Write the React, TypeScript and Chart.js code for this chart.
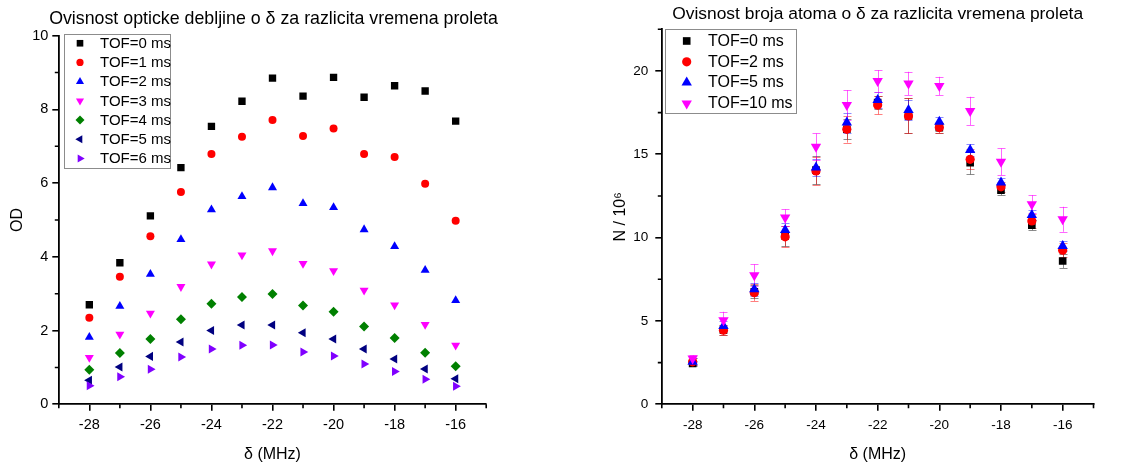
import React, { useEffect, useRef } from 'react';
import { Chart, registerables } from 'chart.js';

Chart.register(...registerables);

const FONT = "'Liberation Sans', Arial, Helvetica, sans-serif";

// ---------- shared axis ----------
const detuning = [-28, -27, -26, -25, -24, -23, -22, -21, -20, -19, -18, -17, -16];
const detuningMajorTicks = [-28, -26, -24, -22, -20, -18, -16];
const detuningMinorTicks = [-29, -27, -25, -23, -21, -19, -17, -15];
const xAxisTitle = 'δ (MHz)';

// ---------- left chart: optical density ----------
const odTitle = 'Ovisnost opticke debljine o δ za razlicita vremena proleta';
const odAxisTitle = 'OD';
const odSeriesNames = ['TOF=0 ms', 'TOF=1 ms', 'TOF=2 ms', 'TOF=3 ms', 'TOF=4 ms', 'TOF=5 ms', 'TOF=6 ms'];
const odTof0 = [2.70, 3.84, 5.11, 6.42, 7.54, 8.22, 8.85, 8.36, 8.87, 8.33, 8.64, 8.50, 7.68];
const odTof1 = [2.35, 3.46, 4.56, 5.76, 6.79, 7.26, 7.71, 7.28, 7.48, 6.79, 6.71, 5.98, 4.98];
const odTof2 = [1.82, 2.66, 3.53, 4.47, 5.28, 5.64, 5.88, 5.45, 5.34, 4.74, 4.28, 3.64, 2.82];
const odTof3 = [1.27, 1.90, 2.47, 3.19, 3.80, 4.05, 4.16, 3.82, 3.62, 3.09, 2.69, 2.16, 1.60];
const odTof4 = [0.94, 1.39, 1.77, 2.31, 2.73, 2.91, 2.99, 2.68, 2.51, 2.11, 1.80, 1.40, 1.03];
const odTof5 = [0.65, 1.01, 1.30, 1.69, 2.00, 2.15, 2.15, 1.94, 1.77, 1.50, 1.23, 0.96, 0.69];
const odTof6 = [0.50, 0.75, 0.95, 1.28, 1.50, 1.60, 1.61, 1.42, 1.31, 1.09, 0.89, 0.68, 0.49];
const odSeries = [odTof0, odTof1, odTof2, odTof3, odTof4, odTof5, odTof6];
const odYTicks = [0, 2, 4, 6, 8, 10];
const odYMinorTicks = [1, 3, 5, 7, 9];

// ---------- right chart: atom number ----------
const nTitle = 'Ovisnost broja atoma o δ za razlicita vremena proleta';
const nAxisTitle = 'N / 10⁶';
const nSeriesNames = ['TOF=0 ms', 'TOF=2 ms', 'TOF=5 ms', 'TOF=10 ms'];
const nTof0 = [2.45, 4.45, 6.75, 10.10, 14.05, 16.50, 18.10, 17.30, 16.60, 14.50, 12.85, 10.75, 8.60];
const nTof0Err = [0.15, 0.30, 0.40, 0.60, 0.85, 0.60, 0.40, 1.05, 0.30, 0.70, 0.30, 0.30, 0.42];
const nTof2 = [2.55, 4.45, 6.70, 10.05, 14.00, 16.50, 17.95, 17.30, 16.60, 14.70, 13.05, 11.00, 9.25];
const nTof2Err = [0.20, 0.30, 0.50, 0.62, 0.82, 0.80, 0.55, 1.05, 0.30, 0.60, 0.30, 0.40, 0.40];
const nTof5 = [2.55, 4.70, 6.90, 10.45, 14.20, 16.90, 18.25, 17.65, 16.95, 15.25, 13.30, 11.35, 9.50];
const nTof5Err = [0.20, 0.30, 0.40, 0.40, 0.50, 0.60, 0.50, 0.60, 0.30, 0.35, 0.30, 0.30, 0.30];
const nTof10 = [2.75, 5.05, 7.75, 11.20, 15.45, 17.95, 19.40, 19.25, 19.10, 17.60, 14.55, 12.00, 11.10];
const nTof10Err = [0.20, 0.50, 0.65, 0.50, 0.80, 0.90, 0.65, 0.70, 0.55, 0.85, 0.80, 0.55, 0.75];
const nSeries = [nTof0, nTof2, nTof5, nTof10];
const nSeriesErr = [nTof0Err, nTof2Err, nTof5Err, nTof10Err];
const nYTicks = [0, 5, 10, 15, 20];
const nYMinorTicks = [2.5, 7.5, 12.5, 17.5, 22.5];

// ---------- styles ----------
const odColors = ['#000000', '#ff0000', '#0000ff', '#ff00ff', '#008000', '#000080', '#8000ff'];
const odShapes = ['rect', 'circle', 'triangle', 'triangle', 'rectRot', 'triangle', 'triangle'];
const odRotations = [0, 0, 0, 180, 0, 270, 90];
const odRadii = [5.2, 4.0, 5.2, 5.2, 5.0, 5.2, 5.2];

const nColors = ['#000000', '#ff0000', '#0000ff', '#ff00ff'];
const nErrColors = ['rgba(0,0,0,0.45)', 'rgba(255,0,0,0.5)', 'rgba(0,0,255,0.45)', 'rgba(255,0,255,0.6)'];
const nShapes = ['rect', 'circle', 'triangle', 'triangle'];
const nRotations = [0, 0, 0, 180];
const nRadii = [5.4, 4.6, 6.0, 6.0];

function drawMarker(ctx: CanvasRenderingContext2D, style: string, rotation: number, r: number, x: number, y: number, color: string) {
  ctx.save();
  ctx.fillStyle = color;
  ctx.beginPath();
  const rad = (rotation * Math.PI) / 180;
  if (style === 'rect') {
    const s = Math.SQRT1_2 * r;
    ctx.rect(x - s, y - s, 2 * s, 2 * s);
  } else if (style === 'circle') {
    ctx.arc(x, y, r, 0, Math.PI * 2);
  } else if (style === 'rectRot') {
    ctx.moveTo(x, y - r);
    ctx.lineTo(x + r, y);
    ctx.lineTo(x, y + r);
    ctx.lineTo(x - r, y);
    ctx.closePath();
  } else {
    let a = rad;
    ctx.moveTo(x + Math.sin(a) * r, y - Math.cos(a) * r);
    a += (2 * Math.PI) / 3;
    ctx.lineTo(x + Math.sin(a) * r, y - Math.cos(a) * r);
    a += (2 * Math.PI) / 3;
    ctx.lineTo(x + Math.sin(a) * r, y - Math.cos(a) * r);
    ctx.closePath();
  }
  ctx.fill();
  ctx.restore();
}

function makeMinorTicksPlugin(xMinor: number[], yMinor: number[], length: number) {
  return {
    id: 'minorTicks',
    afterDraw(chart: any) {
      const ctx = chart.ctx as CanvasRenderingContext2D;
      const xs = chart.scales.x;
      const ys = chart.scales.y;
      ctx.save();
      ctx.strokeStyle = '#000';
      ctx.lineWidth = 1.6;
      ctx.beginPath();
      for (const v of xMinor) {
        const px = xs.getPixelForValue(v);
        ctx.moveTo(px, xs.top);
        ctx.lineTo(px, xs.top + length);
      }
      for (const v of yMinor) {
        const py = ys.getPixelForValue(v);
        ctx.moveTo(ys.right, py);
        ctx.lineTo(ys.right - length, py);
      }
      ctx.stroke();
      ctx.restore();
    },
  };
}

type LegendLayout = {
  dx: number; dy: number; w: number; h: number;
  firstRow: number; rowStep: number; markerX: number; textX: number;
  fontSize: number; markerScale: number;
};

function makeLegendPlugin(L: LegendLayout) {
  return {
    id: 'boxLegend',
    afterDraw(chart: any) {
      const ctx = chart.ctx as CanvasRenderingContext2D;
      const area = chart.chartArea;
      const bx = area.left + L.dx;
      const by = area.top + L.dy;
      ctx.save();
      ctx.fillStyle = '#ffffff';
      ctx.fillRect(bx, by, L.w, L.h);
      ctx.strokeStyle = '#8c8c8c';
      ctx.lineWidth = 1;
      ctx.strokeRect(Math.round(bx) + 0.5, Math.round(by) + 0.5, L.w, L.h);
      ctx.font = `${L.fontSize}px ${FONT}`;
      ctx.textBaseline = 'middle';
      ctx.textAlign = 'left';
      chart.data.datasets.forEach((ds: any, i: number) => {
        const y = by + L.firstRow + i * L.rowStep;
        drawMarker(ctx, ds.pointStyle, ds.pointRotation, ds.pointRadius * L.markerScale, bx + L.markerX, y, ds.backgroundColor);
        ctx.fillStyle = '#000';
        ctx.fillText(ds.label, bx + L.textX, y + 0.5);
      });
      ctx.restore();
    },
  };
}

function makeErrorBarPlugin(errors: number[][], colors: string[], capHalf: number) {
  return {
    id: 'errorBars',
    beforeDatasetsDraw(chart: any) {
      const ctx = chart.ctx as CanvasRenderingContext2D;
      const xs = chart.scales.x;
      const ys = chart.scales.y;
      ctx.save();
      ctx.lineWidth = 1;
      chart.data.datasets.forEach((ds: any, i: number) => {
        ctx.strokeStyle = colors[i];
        ctx.beginPath();
        ds.data.forEach((p: any, j: number) => {
          const e = errors[i][j];
          const px = Math.round(xs.getPixelForValue(p.x)) + 0.5;
          const yt = ys.getPixelForValue(p.y + e);
          const yb = ys.getPixelForValue(p.y - e);
          ctx.moveTo(px, yt);
          ctx.lineTo(px, yb);
          ctx.moveTo(px - capHalf, Math.round(yt) + 0.5);
          ctx.lineTo(px + capHalf, Math.round(yt) + 0.5);
          ctx.moveTo(px - capHalf, Math.round(yb) + 0.5);
          ctx.lineTo(px + capHalf, Math.round(yb) + 0.5);
        });
        ctx.stroke();
      });
      ctx.restore();
    },
  };
}

type AxisLayout = {
  title: string; titleFont: number; titleFullSize: boolean; yTitle: string; yMax: number; yTicks: number[];
  padRight: number; spacerWidth: number; titlePadTop: number; titlePadBottom: number;
  yWidth: number; yTitlePad: number; yTickPad: number; xTickPad: number;
  tickFont: number; xHeight: number;
};

function buildOptions(A: AxisLayout): any {
  const tickFont = { family: FONT, size: A.tickFont };
  const axisTitleFont = { family: FONT, size: 16 };
  const grid = { display: true, drawOnChartArea: false, drawTicks: true, tickLength: 6.5, color: '#000', lineWidth: 1.6 };
  const border = { display: true, color: '#000', width: 1.8 };
  const scales: any = {
    x: {
      type: 'linear',
      min: -29,
      max: -15,
      afterBuildTicks: (s: any) => { s.ticks = detuningMajorTicks.map((v) => ({ value: v })); },
      afterFit: (s: any) => { s.height = A.xHeight; },
      ticks: { font: tickFont, color: '#000', padding: A.xTickPad, maxRotation: 0, autoSkip: false, callback: (v: any) => String(v) },
      grid,
      border,
      title: { display: true, text: xAxisTitle, color: '#000', font: axisTitleFont, padding: { top: 0, bottom: 3.4 } },
    },
    y: {
      type: 'linear',
      min: 0,
      max: A.yMax,
      afterBuildTicks: (s: any) => { s.ticks = A.yTicks.map((v) => ({ value: v })); },
      afterFit: (s: any) => { s.width = A.yWidth; },
      ticks: { font: tickFont, color: '#000', padding: A.yTickPad, autoSkip: false, callback: (v: any) => String(v) },
      grid,
      border,
      title: { display: true, text: A.yTitle, color: '#000', font: axisTitleFont, padding: { top: A.yTitlePad, bottom: 0 } },
    },
  };
  if (A.spacerWidth > 0) {
    // invisible right-hand spacer so the full-width title can be centred like the reference
    scales.spacer = {
      type: 'linear',
      position: 'right',
      display: true,
      grid: { display: false, drawTicks: false },
      border: { display: false },
      ticks: { display: false },
      afterFit: (s: any) => { s.width = A.spacerWidth; },
    };
  }
  return {
    responsive: false,
    animation: false,
    events: [],
    layout: { padding: { left: 0, top: 0, bottom: 0, right: A.padRight } },
    plugins: {
      legend: { display: false },
      tooltip: { enabled: false },
      title: {
        display: true,
        text: A.title,
        fullSize: A.titleFullSize,
        color: '#000',
        font: { family: FONT, size: A.titleFont, weight: 'normal' },
        padding: { top: A.titlePadTop, bottom: A.titlePadBottom },
      },
    },
    scales,
  };
}

function odConfig(): any {
  const datasets = odSeries.map((vals, i) => ({
    label: odSeriesNames[i],
    data: detuning.map((x, j) => ({ x, y: vals[j] })),
    backgroundColor: odColors[i],
    borderColor: odColors[i],
    pointStyle: odShapes[i],
    pointRotation: odRotations[i],
    pointRadius: odRadii[i],
    pointBorderWidth: 0,
    showLine: false,
    order: odSeries.length - i,
  }));
  return {
    type: 'scatter',
    data: { datasets },
    options: buildOptions({
      title: odTitle, titleFont: 17.8, titleFullSize: true, yTitle: odAxisTitle, yMax: 10, yTicks: odYTicks,
      padRight: 18, spacerWidth: 60.8, titlePadTop: 8.0, titlePadBottom: 6.3,
      yWidth: 58.8, yTitlePad: 8, yTickPad: 4, xTickPad: 5.5, tickFont: 14.5, xHeight: 63.7,
    }),
    plugins: [
      makeMinorTicksPlugin(detuningMinorTicks, odYMinorTicks, 4),
      makeLegendPlugin({ dx: 5.2, dy: -1.4, w: 106, h: 134, firstRow: 9, rowStep: 19.2, markerX: 16, textX: 36, fontSize: 15, markerScale: 0.9 }),
    ],
  };
}

function nConfig(): any {
  const datasets = nSeries.map((vals, i) => ({
    label: nSeriesNames[i],
    data: detuning.map((x, j) => ({ x, y: vals[j] })),
    backgroundColor: nColors[i],
    borderColor: nColors[i],
    pointStyle: nShapes[i],
    pointRotation: nRotations[i],
    pointRadius: nRadii[i],
    pointBorderWidth: 0,
    showLine: false,
    order: nSeries.length - i,
  }));
  return {
    type: 'scatter',
    data: { datasets },
    options: buildOptions({
      title: nTitle, titleFont: 17.4, titleFullSize: false, yTitle: nAxisTitle, yMax: 22.5, yTicks: nYTicks,
      padRight: 35.5, spacerWidth: 0, titlePadTop: 4.1, titlePadBottom: 4.3,
      yWidth: 96.8, yTitlePad: 46.4, yTickPad: 7, xTickPad: 6.1, tickFont: 13.5, xHeight: 63.7,
    }),
    plugins: [
      makeErrorBarPlugin(nSeriesErr, nErrColors, 4),
      makeMinorTicksPlugin(detuningMinorTicks, nYMinorTicks, 4),
      makeLegendPlugin({ dx: 3.2, dy: -0.3, w: 131, h: 84, firstRow: 12, rowStep: 20.8, markerX: 21.7, textX: 43, fontSize: 16, markerScale: 1 }),
    ],
  };
}

function ChartCanvas({ makeConfig, left, width, height }: { makeConfig: () => any; left: number; width: number; height: number }) {
  const ref = useRef<HTMLCanvasElement>(null);
  useEffect(() => {
    const chart = new Chart(ref.current as HTMLCanvasElement, makeConfig());
    return () => chart.destroy();
  }, [makeConfig]);
  return (
    <canvas
      ref={ref}
      width={width}
      height={height}
      style={{ position: 'absolute', left, top: 0, width, height, display: 'block' }}
    />
  );
}

export default function App() {
  return (
    <div style={{ position: 'absolute', left: 0, top: 0, width: 1129, height: 468, background: '#fff', overflow: 'hidden' }}>
      <ChartCanvas makeConfig={odConfig} left={0} width={565} height={468} />
      <ChartCanvas makeConfig={nConfig} left={565} width={564} height={468} />
    </div>
  );
}
